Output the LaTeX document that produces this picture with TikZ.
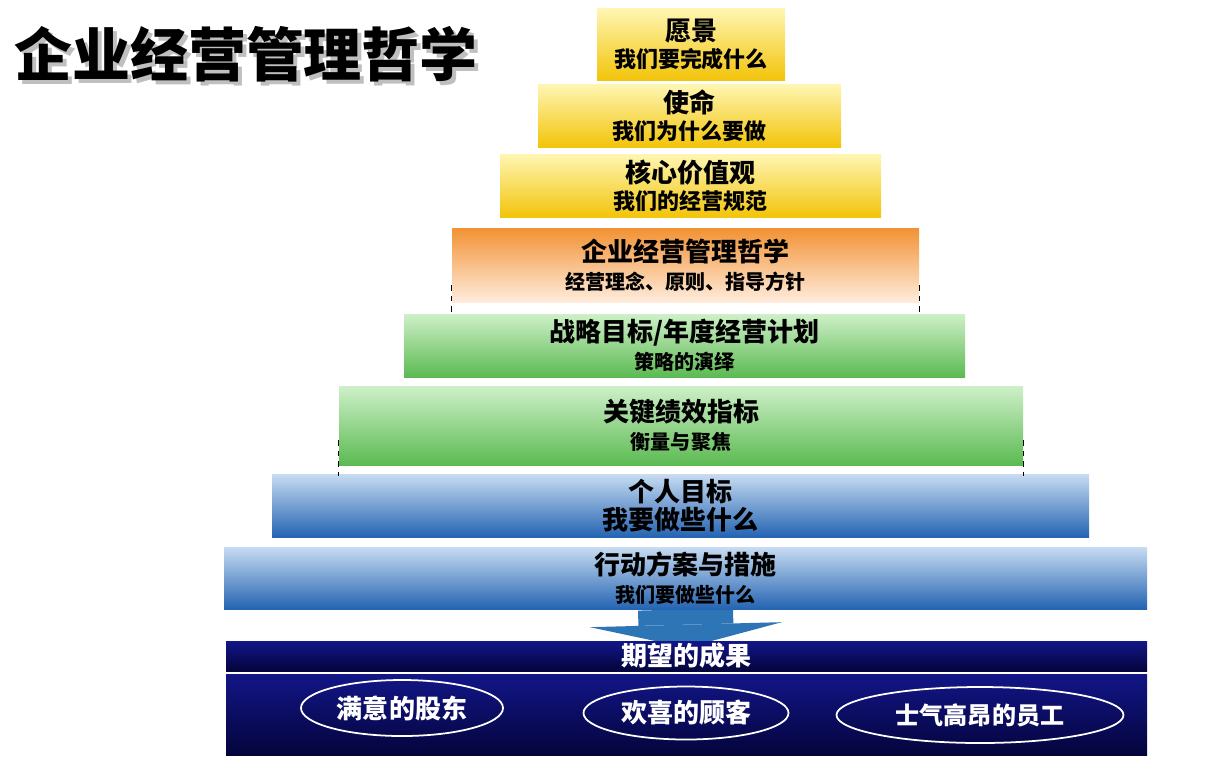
\documentclass[tikz,border=0pt]{standalone}
\usepackage{fontspec}
\setmainfont{Noto Sans CJK SC}
\usetikzlibrary{arrows.meta,positioning,shapes.geometric,backgrounds}

\definecolor{goldtop}{RGB}{255,246,180}
\definecolor{goldbot}{RGB}{242,196,10}
\definecolor{orangetop}{RGB}{242,146,52}
\definecolor{orangebot}{RGB}{255,236,220}
\definecolor{greentop}{RGB}{206,240,200}
\definecolor{greenbot}{RGB}{92,186,82}
\definecolor{bluetop}{RGB}{200,220,242}
\definecolor{bluebot}{RGB}{36,100,178}
\definecolor{navytop}{RGB}{18,22,135}
\definecolor{navybot}{RGB}{4,4,60}
\definecolor{arrowblue}{RGB}{46,117,182}

\newcommand{\tiertitle}[1]{{\fontsize{14.8pt}{17pt}\selectfont #1}}

\begin{document}
\begin{tikzpicture}[x=0.02cm, y=-0.02cm,
    tier/.style 2 args={minimum width=#1*0.02cm, minimum height=#2*0.02cm,
      inner sep=0pt, align=center},
    subbig/.style={font=\fontsize{12.5pt}{15.4pt}\selectfont\bfseries},
    subsmall/.style={font=\fontsize{11.4pt}{16pt}\selectfont\bfseries},
    gold/.style={top color=goldtop, bottom color=goldbot},
    orange/.style={top color=orangetop, bottom color=orangebot},
    green/.style={top color=greentop, bottom color=greenbot},
    blue/.style={top color=bluetop, bottom color=bluebot},
    navy/.style={top color=navytop, bottom color=navybot, text=white},
    goal/.style={ellipse, draw=white, line width=1pt, text=white,
      inner sep=0pt, font=\fontsize{14.8pt}{17pt}\selectfont\bfseries},
    tick/.style={line width=0.8pt, dash pattern=on 3pt off 3pt}]
  \useasboundingbox (0,0) rectangle (1210,762);

  % Title with shadow
  \node[text=gray!50, font=\fontsize{33pt}{36pt}\selectfont\bfseries] (titleshadow) at (250,58) {企业经营管理哲学};
  \node[font=\fontsize{33pt}{36pt}\selectfont\bfseries] (title) at (246,54) {企业经营管理哲学};

  % Yellow tiers
  \node[tier={188}{72}, gold, subbig] (vision) at (691,44) {\tiertitle{愿景}\\我们要完成什么};
  \node[tier={303}{63}, gold, subbig] (mission) at (689.5,115.5) {\tiertitle{使命}\\我们为什么要做};
  \node[tier={381}{63}, gold, subbig] (values) at (690.5,185.5) {\tiertitle{核心价值观}\\我们的经营规范};

  % Orange tier
  \node[tier={467}{74}, orange, subsmall] (philo) at (685.5,265) {\tiertitle{企业经营管理哲学}\\经营理念、原则、指导方针};

  % Green tiers
  \node[tier={561}{63}, green, subsmall] (strategy) at (684.5,345.5) {\tiertitle{战略目标/年度经营计划}\\策略的演绎};
  \node[tier={684}{79}, green, subsmall] (kpi) at (681,425.5) {\tiertitle{关键绩效指标}\\衡量与聚焦};

  % Blue tiers
  \node[tier={817}{63}, blue, font=\fontsize{14.8pt}{16pt}\selectfont\bfseries] (personal) at (680.5,505.5) {个人目标\\我要做些什么};
  \node[tier={923}{62}, blue, subsmall] (action) at (685.5,578) {\tiertitle{行动方案与措施}\\我们要做些什么};

  % Results
  \node[tier={921}{30}, navy, font=\fontsize{14.8pt}{17pt}\selectfont\bfseries] (result) at (686.5,656) {期望的成果};
  \node[tier={921}{81}, navy] (outcome) at (686.5,714.5) {};
  \node[goal, minimum width=202*0.02cm, minimum height=56*0.02cm] (holders) at (402,708) {满意的股东};
  \node[goal, minimum width=205*0.02cm, minimum height=53*0.02cm] (customers) at (686,713) {欢喜的顾客};
  \node[goal, minimum width=287*0.02cm, minimum height=56*0.02cm,
    font=\fontsize{13.7pt}{16pt}\selectfont\bfseries] (staff) at (980,715) {士气高昂的员工};

  % Arrow into results
  \begin{scope}[on background layer]
    \draw[arrowblue, line width=1.9cm, -{Triangle[width=3.84cm, length=0.46cm, line width=0pt]}]
      (action.south) -- ([yshift=-0.14cm]result.north);
  \end{scope}

  % Dashed side ticks
  \draw[tick] ([yshift=0.34cm]philo.south west) -- ([yshift=-0.26cm]philo.south west);
  \draw[tick] ([yshift=0.34cm]philo.south east) -- ([yshift=-0.26cm]philo.south east);
  \draw[tick] ([yshift=0.5cm]kpi.south west) -- ([yshift=-0.22cm]kpi.south west);
  \draw[tick] ([yshift=0.5cm]kpi.south east) -- ([yshift=-0.22cm]kpi.south east);
\end{tikzpicture}
\end{document}
